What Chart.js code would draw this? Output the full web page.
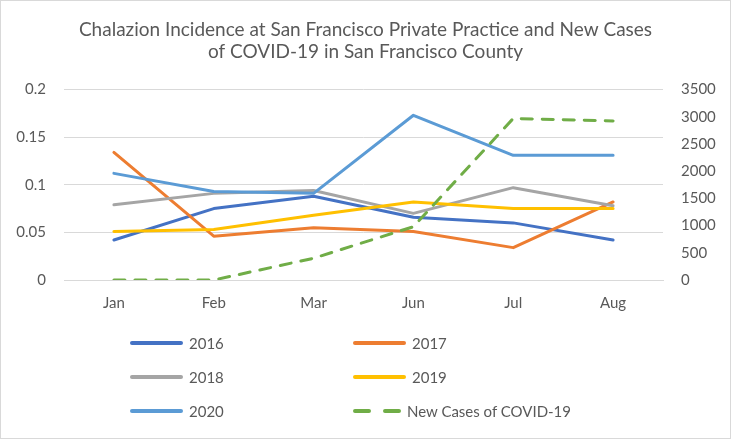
<!DOCTYPE html>
<html>
<head>
<meta charset="utf-8">
<script src="https://cdn.jsdelivr.net/npm/chart.js@4/dist/chart.umd.min.js"></script>
<style>
  body { margin: 0; background: #fff; }
  #wrap { position: relative; width: 729px; height: 437px; border: 1px solid #d9d9d9; }
  #legend { position: absolute; left: 128px; top: 332px; display: grid;
    grid-template-columns: 223px 260px; row-gap: 14px;
    font-family: Lato, "Open Sans", sans-serif; font-size: 15px; color: #595959; }
  .item { display: flex; align-items: center; height: 20px; }
  .item svg { margin-right: 3px; }
</style>
</head>
<body>
<div id="wrap">
  <canvas id="chart" width="729" height="437"></canvas>
  <div id="legend"></div>
</div>
<script>
const months = ["Jan", "Feb", "Mar", "Jun", "Jul", "Aug"];
const y2016 = [0.042, 0.075, 0.088, 0.066, 0.060, 0.042];
const y2017 = [0.134, 0.046, 0.055, 0.051, 0.034, 0.082];
const y2018 = [0.079, 0.091, 0.094, 0.070, 0.097, 0.078];
const y2019 = [0.051, 0.053, 0.068, 0.082, 0.075, 0.075];
const y2020 = [0.112, 0.093, 0.091, 0.173, 0.131, 0.131];
const covidCases = [0, 0, 400, 980, 2970, 2925];
const leftTicks = ["0", "0.05", "0.1", "0.15", "0.2"];

const font = "Lato, 'Open Sans', sans-serif";
const grey = "#595959";

function series(label, data, color, order) {
  return {
    label: label, data: data, borderColor: color, backgroundColor: color,
    borderWidth: 3, pointRadius: 0, tension: 0, yAxisID: "y", order: order,
    borderJoinStyle: "round", borderCapStyle: "round"
  };
}

const datasets = [
  series("2016", y2016, "#4472C4", 6),
  series("2017", y2017, "#ED7D31", 5),
  series("2018", y2018, "#A5A5A5", 4),
  series("2019", y2019, "#FFC000", 3),
  series("2020", y2020, "#5B9BD5", 2),
  {
    label: "New Cases of COVID-19", data: covidCases, borderColor: "#70AD47",
    backgroundColor: "#70AD47", borderWidth: 3, borderDash: [11, 10],
    borderCapStyle: "round", pointRadius: 0, tension: 0, yAxisID: "y1", order: 1
  }
];

const ctx = document.getElementById("chart").getContext("2d");
new Chart(ctx, {
  type: "line",
  data: { labels: months, datasets: datasets },
  options: {
    responsive: false,
    animation: false,
    layout: { padding: { left: 0, right: 0, top: 0, bottom: 112 } },
    plugins: {
      legend: { display: false },
      tooltip: { enabled: false },
      title: {
        display: true,
        text: ["Chalazion Incidence at San Francisco Private Practice and New Cases",
               "of COVID-19 in San Francisco County"],
        color: grey,
        font: { family: font, size: 19, weight: "normal", lineHeight: 1.2 },
        padding: { top: 17, bottom: 26 }
      }
    },
    scales: {
      x: {
        offset: true,
        grid: { display: false, drawTicks: false },
        border: { color: "#d9d9d9" },
        ticks: { color: grey, font: { family: font, size: 15 }, padding: 14 }
      },
      y: {
        position: "left",
        min: 0, max: 0.2,
        afterFit: (s) => { s.width = 63; },
        grid: { color: "#d9d9d9", drawTicks: false },
        border: { display: false },
        ticks: {
          stepSize: 0.05, color: grey, font: { family: font, size: 15 }, padding: 18,
          callback: (v, i) => leftTicks[i]
        }
      },
      y1: {
        position: "right",
        min: 0, max: 3500,
        afterFit: (s) => { s.width = 67; },
        grid: { display: false, drawTicks: false },
        border: { display: false },
        ticks: {
          stepSize: 500, color: grey, font: { family: font, size: 15 }, padding: 18,
          callback: (v) => String(v)
        }
      }
    }
  }
});

const legend = document.getElementById("legend");
datasets.forEach((d) => {
  const item = document.createElement("div");
  item.className = "item";
  const dash = d.borderDash ? ' stroke-dasharray="14 16"' : "";
  const end = d.borderDash ? 46 : 51;
  item.innerHTML =
    '<svg width="' + (end + 6) + '" height="8"><line x1="3" y1="4" x2="' + (end + 1) +
    '" y2="4" stroke="' + d.borderColor + '" stroke-width="4" stroke-linecap="round"' +
    dash + '/></svg><span>' + d.label + '</span>';
  legend.appendChild(item);
});
</script>
</body>
</html>
